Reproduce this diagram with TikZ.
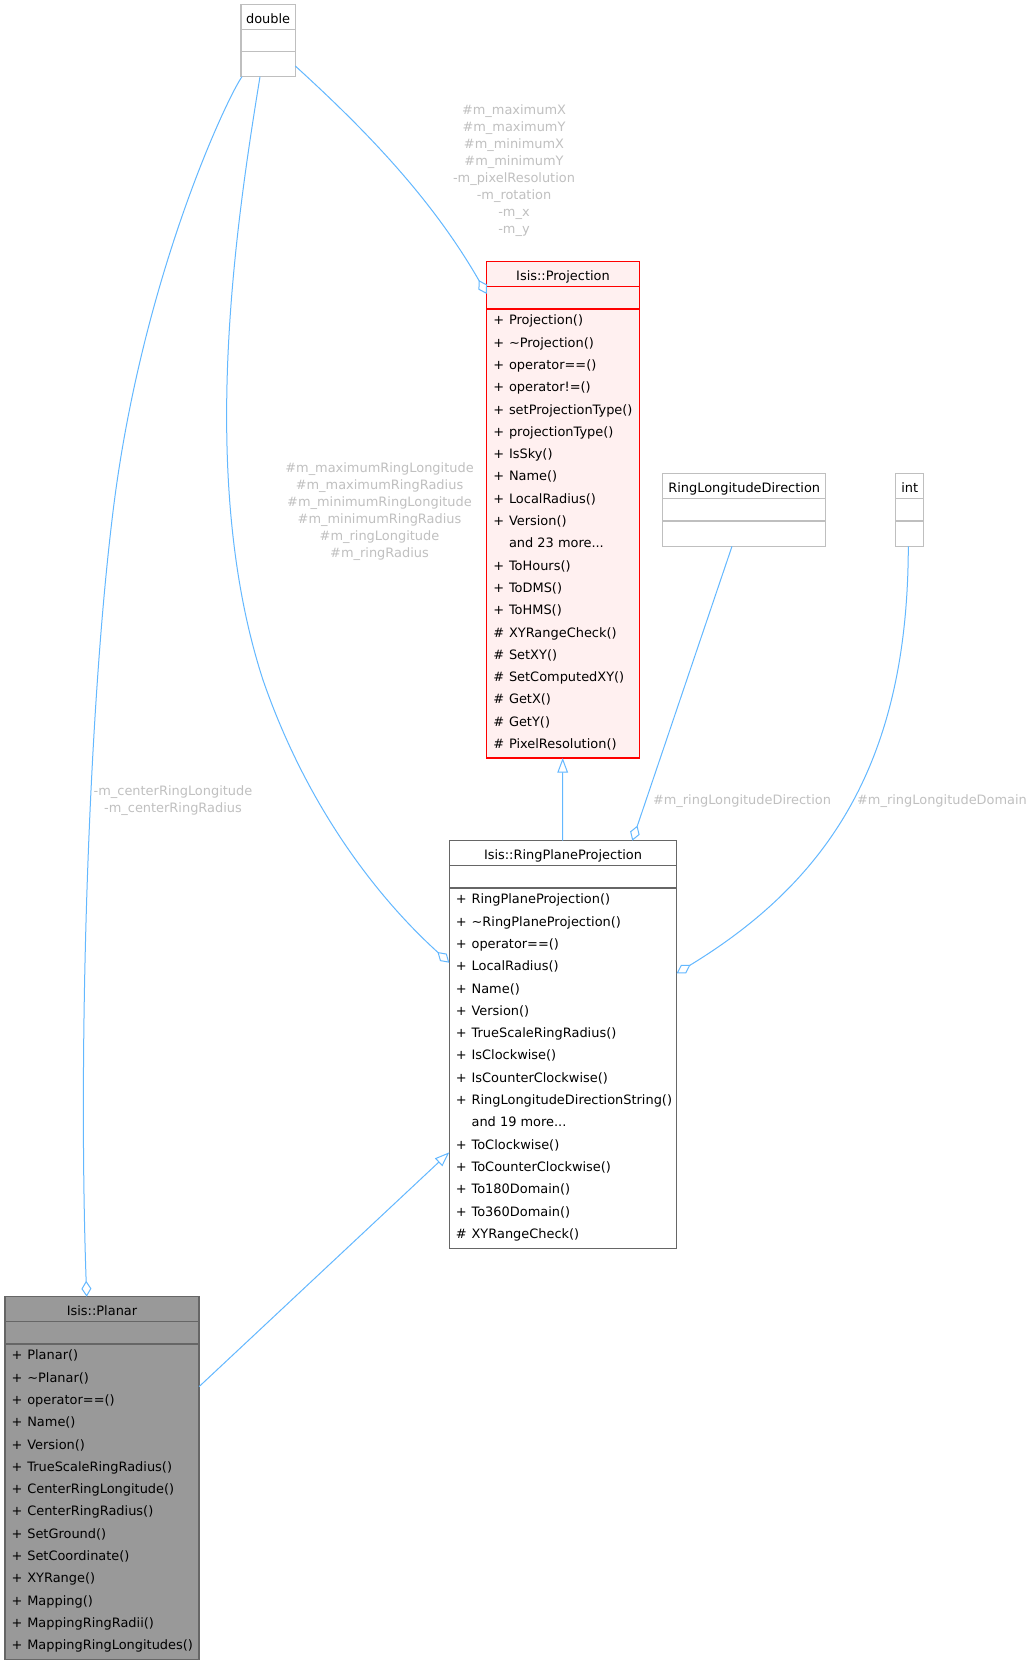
\documentclass[tikz,border=0pt]{standalone}
\usepackage{fontspec}
\setmainfont{DejaVu Sans}
\usetikzlibrary{arrows.meta,calc}
\definecolor{edgeblue}{HTML}{63B8FF}
\definecolor{lblgrey}{HTML}{C0C0C0}
\definecolor{projred}{HTML}{FF0000}
\definecolor{projfill}{HTML}{FFF0F0}
\definecolor{darkgrey}{HTML}{666666}
\definecolor{planarfill}{HTML}{999999}
\definecolor{lightborder}{HTML}{BFBFBF}

\tikzset{
  umlframe/.style={rectangle, line width=0.8pt, inner sep=0pt, outer sep=0pt},
  umlrule/.style={line width=0.8pt},
  umltext/.style={inner sep=0pt, outer sep=0pt, text=black, font=\fontsize{9.7}{12.75}\selectfont},
  lbl/.style={inner sep=0pt, text=lblgrey, align=center, font=\fontsize{9.7}{12.75}\selectfont},
  conn/.style={draw=edgeblue, line width=0.75pt},
  aggr/.style={conn, -{Diamond[open, length=12pt, width=7.5pt]}},
  inh/.style={conn, -{Triangle[open, length=11pt, width=8pt]}}
}

\newcommand\umlbox[8]{%
  \node[umlframe, draw=#6, fill=#7, minimum width=#4*0.75pt, minimum height=#5*0.75pt, anchor=north west] (#1) at (#2,#3) {};
  \node[umltext, anchor=base] (#1-title) at ($(#1.north)+(0,19)$) {#8};
  \draw[umlrule, draw=#6] ($(#1.north west)+(0,25)$) -- ($(#1.north east)+(0,25)$);
  \draw[umlrule, draw=#6] ($(#1.north west)+(0,47.3)$) -- ($(#1.north east)+(0,47.3)$);
}
\newcommand\umlrows[2]{%
  \foreach[count=\i] \sym/\mname in {#2} {
    \node[umltext, anchor=base west] (#1-s\i) at ($(#1.north west)+(6.6,{47.3+15.8+(\i-1)*22.3})$) {\sym};
    \node[umltext, anchor=base west] (#1-m\i) at ($(#1.north west)+(22.3,{47.3+15.8+(\i-1)*22.3})$) {\mname};
  }
}

\begin{document}
\begin{tikzpicture}[x=0.75pt, y=-0.75pt]
\fill[white] (0,0) rectangle (1033,1665);
\useasboundingbox (0,0) rectangle (1033,1665);

% class boxes
\umlbox{dbl}{241}{4.3}{54.3}{72.4}{lightborder}{white}{double}
\umlbox{rld}{662.7}{473.7}{163}{72.6}{lightborder}{white}{RingLongitudeDirection}
\umlbox{intb}{895.7}{473.7}{28}{72.6}{lightborder}{white}{int}

\umlbox{proj}{486.7}{261.7}{152.6}{496.3}{projred}{projfill}{Isis::Projection}
\umlrows{proj}{+/Projection(), +/\textasciitilde Projection(), +/operator==(), +/operator!=(), +/setProjectionType(), +/projectionType(), +/IsSky(), +/Name(), +/LocalRadius(), +/Version(), {}/{and 23 more...}, +/ToHours(), +/ToDMS(), +/ToHMS(), \#/XYRangeCheck(), \#/SetXY(), \#/SetComputedXY(), \#/GetX(), \#/GetY(), \#/PixelResolution()}

\umlbox{rpp}{449.3}{840.7}{227.4}{407.6}{darkgrey}{white}{Isis::RingPlaneProjection}
\umlrows{rpp}{+/RingPlaneProjection(), +/\textasciitilde RingPlaneProjection(), +/operator==(), +/LocalRadius(), +/Name(), +/Version(), +/TrueScaleRingRadius(), +/IsClockwise(), +/IsCounterClockwise(), +/RingLongitudeDirectionString(), {}/{and 19 more...}, +/ToClockwise(), +/ToCounterClockwise(), +/To180Domain(), +/To360Domain(), \#/XYRangeCheck()}

\umlbox{planar}{5}{1296.7}{194}{362.6}{darkgrey}{planarfill}{Isis::Planar}
\umlrows{planar}{+/Planar(), +/\textasciitilde Planar(), +/operator==(), +/Name(), +/Version(), +/TrueScaleRingRadius(), +/CenterRingLongitude(), +/CenterRingRadius(), +/SetGround(), +/SetCoordinate(), +/XYRange(), +/Mapping(), +/MappingRingRadii(), +/MappingRingLongitudes()}

% connectors
\draw[aggr] ($(dbl.south west)+(1,0)$) .. controls (228,96) and (140,280) .. (112,520)
  .. controls (88,720) and (78,1050) .. ($(planar.north west)+(81.7,0)$);
\draw[aggr] ($(dbl.south west)+(19,0)$) .. controls (235,230) and (198,480) .. (263,680)
  .. controls (308,810) and (380,900) .. ($(rpp.north west)+(0,122)$);
\draw[aggr] ($(dbl.south east)+(0,-10.7)$) .. controls (360,125) and (430,195) .. ($(proj.north west)+(0,32.3)$);
\draw[inh] ($(rpp.north west)+(113.4,0)$) -- ($(proj.south west)+(76,0)$);
\draw[aggr] ($(rld.south west)+(69.3,0)$) -- ($(rpp.north west)+(183,0)$);
\draw[aggr] ($(intb.south west)+(12.6,0)$) .. controls (908,760) and (830,880) .. ($(rpp.north east)+(0,132.6)$);
\draw[inh] ($(planar.north east)+(0,90)$) -- ($(rpp.north west)+(0,311.6)$);

% labels
\node[lbl] (lab-proj) at (514,171) {\#m\_maximumX\\\#m\_maximumY\\\#m\_minimumX\\\#m\_minimumY\\-m\_pixelResolution\\-m\_rotation\\-m\_x\\-m\_y};
\node[lbl] (lab-rpp) at (379.5,512) {\#m\_maximumRingLongitude\\\#m\_maximumRingRadius\\\#m\_minimumRingLongitude\\\#m\_minimumRingRadius\\\#m\_ringLongitude\\\#m\_ringRadius};
\node[lbl] (lab-planar) at (173,800.5) {-m\_centerRingLongitude\\-m\_centerRingRadius};
\node[lbl] (lab-dir) at (742,801) {\#m\_ringLongitudeDirection};
\node[lbl] (lab-dom) at (942,801) {\#m\_ringLongitudeDomain};
\end{tikzpicture}
\end{document}
